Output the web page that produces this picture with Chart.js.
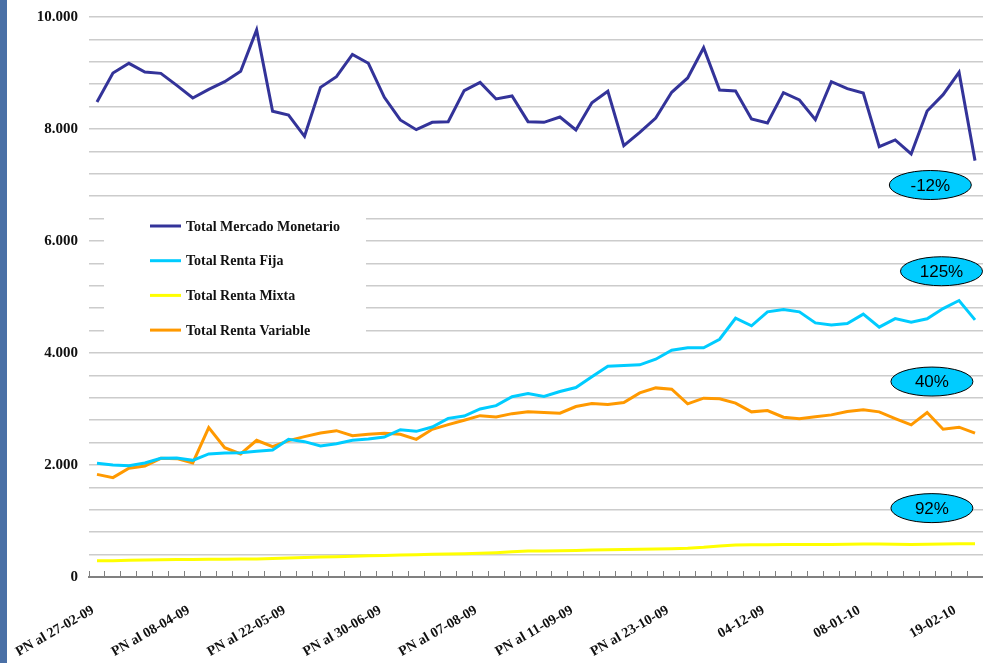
<!DOCTYPE html>
<html>
<head>
<meta charset="utf-8">
<script src="https://cdn.jsdelivr.net/npm/chart.js@4.4.0/dist/chart.umd.min.js"></script>
<style>
  body { margin: 0; background: #fff; }
  #wrap { position: relative; width: 983px; height: 663px; overflow: hidden; }
  #bar { position: absolute; left: 0; top: 0; width: 7px; height: 663px; background: #4a70a6; }
</style>
</head>
<body>
<div id="wrap">
  <canvas id="chart-line" width="983" height="663"></canvas>
  <div id="bar"></div>
</div>
<script>
// weekly values
const tickLabels = ["PN al 27-02-09", "PN al 08-04-09", "PN al 22-05-09", "PN al 30-06-09", "PN al 07-08-09",
  "PN al 11-09-09", "PN al 23-10-09", "04-12-09", "08-01-10", "19-02-10"];
const labelStep = 6;

const seriesNames = ["Total Mercado Monetario", "Total Renta Fija", "Total Renta Mixta", "Total Renta Variable"];

const monetario = [8482, 9000, 9173, 9018, 8994, 8780, 8554, 8708, 8845, 9030, 9768, 8316, 8250, 7869,
  8744, 8935, 9333, 9173, 8566, 8161, 7988, 8119, 8131, 8685, 8833, 8536, 8589, 8131, 8119, 8214, 7982,
  8470, 8673, 7702, 7940, 8196, 8655, 8911, 9452, 8696, 8679, 8179, 8107, 8649, 8518, 8167, 8845, 8720,
  8643, 7685, 7804, 7554, 8322, 8613, 9012, 7435];
const rentaFija = [2030, 2000, 1988, 2036, 2119, 2125, 2083, 2197, 2214, 2220, 2244, 2268, 2458, 2417,
  2339, 2381, 2441, 2464, 2500, 2631, 2601, 2679, 2833, 2875, 3000, 3060, 3220, 3278, 3223, 3312, 3383,
  3574, 3764, 3776, 3788, 3889, 4050, 4092, 4092, 4246, 4621, 4485, 4735, 4776, 4735, 4538, 4502, 4526,
  4693, 4461, 4615, 4550, 4610, 4794, 4937, 4592];
const rentaMixta = [290, 292, 297, 303, 308, 312, 314, 316, 318, 320, 322, 330, 340, 348, 355, 362, 370,
  378, 385, 392, 398, 405, 410, 415, 422, 435, 450, 464, 466, 470, 475, 480, 485, 490, 495, 500, 505, 512,
  530, 555, 571, 575, 578, 580, 580, 580, 582, 585, 589, 588, 585, 582, 583, 588, 592, 595];
const rentaVariable = [1833, 1774, 1941, 1982, 2119, 2113, 2036, 2667, 2310, 2197, 2441, 2327, 2435, 2506,
  2572, 2613, 2524, 2548, 2566, 2548, 2458, 2637, 2720, 2798, 2881, 2857, 2917, 2950, 2937, 2925, 3044,
  3098, 3080, 3116, 3288, 3377, 3354, 3092, 3193, 3181, 3104, 2949, 2973, 2854, 2824, 2860, 2895, 2955,
  2985, 2949, 2830, 2717, 2937, 2639, 2675, 2568];

// change badges on the right
const badgeTexts = ["-12%", "125%", "40%", "92%"];
const badgeIndex = [52.2, 52.9, 52.3, 52.3];
const badgeValue = [7000, 5460, 3490, 1230];

const colors = ["#333399", "#00CCFF", "#FFFF00", "#FF9900"];
const serif = "'Liberation Serif', 'Times New Roman', serif";

let labels = [];
for (let i = 0; i < monetario.length; i++) {
  labels.push(i % labelStep === 0 ? tickLabels[i / labelStep] : "");
}

function miles(v) {
  return String(v).replace(/\B(?=(\d{3})+(?!\d))/g, ".");
}

//legend box drawn inside the plot, over the grid
const legendInside = {
  id: "legendInside",
  beforeDatasetsDraw(chart) {
    const ctx = chart.ctx;
    ctx.save();
    ctx.fillStyle = "#fff";
    ctx.fillRect(104, 207, 262, 136);
    ctx.font = "bold 14px " + serif;
    ctx.textBaseline = "middle";
    ctx.fillStyle = "#111";
    chart.data.datasets.forEach((ds, i) => {
      const y = 226 + i * 34.7;
      ctx.strokeStyle = ds.borderColor;
      ctx.lineWidth = 3;
      ctx.beginPath();
      ctx.moveTo(150, y);
      ctx.lineTo(181, y);
      ctx.stroke();
      ctx.fillText(ds.label, 186, y + 1);
    });
    ctx.restore();
  },
};

const badges = {
  id: "badges",
  afterDraw(chart) {
    const ctx = chart.ctx;
    const xs = chart.scales.x;
    const ys = chart.scales.y;
    ctx.save();
    for (let i = 0; i < badgeTexts.length; i++) {
      const cx = xs.getPixelForValue(badgeIndex[i]);
      const cy = ys.getPixelForValue(badgeValue[i]);
      ctx.beginPath();
      ctx.ellipse(cx, cy, 41, 14.5, 0, 0, Math.PI * 2);
      ctx.fillStyle = "#00CCFF";
      ctx.fill();
      ctx.strokeStyle = "#000";
      ctx.lineWidth = 1;
      ctx.stroke();
      ctx.fillStyle = "#000";
      ctx.font = "17px 'Liberation Sans', Arial, sans-serif";
      ctx.textAlign = "center";
      ctx.textBaseline = "middle";
      ctx.fillText(badgeTexts[i], cx, cy + 1);
    }
    ctx.restore();
  },
};

const ctx = document.getElementById("chart-line");
const chart = new Chart(ctx, {
  type: "line",
  data: {
    labels: labels,
    datasets: [
      { label: seriesNames[0], data: monetario, borderColor: colors[0], backgroundColor: colors[0] },
      { label: seriesNames[1], data: rentaFija, borderColor: colors[1], backgroundColor: colors[1] },
      { label: seriesNames[2], data: rentaMixta, borderColor: colors[2], backgroundColor: colors[2] },
      { label: seriesNames[3], data: rentaVariable, borderColor: colors[3], backgroundColor: colors[3] },
    ],
  },
  options: {
    responsive: false,
    animation: false,
    layout: { padding: { top: 17, right: 0, bottom: 0, left: 0 } },
    elements: {
      line: { borderWidth: 3, tension: 0 },
      point: { radius: 0 },
    },
    plugins: {
      legend: { display: false },
      tooltip: { enabled: false },
    },
    scales: {
      x: {
        offset: true,
        grid: {
          offset: true,
          drawOnChartArea: false,
          drawTicks: true,
          tickLength: -6,
          color: "#808080",
        },
        border: { display: true, color: "#808080", width: 2 },
        ticks: {
          autoSkip: false,
          maxRotation: 30,
          minRotation: 30,
          padding: 31,
          labelOffset: -4,
          color: "#111",
          font: { family: serif, size: 14, weight: "bold" },
        },
        afterFit(scale) {
          scale.height = 86;
          // labels may hang outside the plot, do not shrink it for them
          scale.paddingLeft = 0;
          scale.paddingRight = 0;
        },
      },
      y: {
        min: 0,
        max: 10000,
        grid: { color: "#cccccc", lineWidth: 1.5, drawTicks: false },
        border: { display: false },
        ticks: {
          stepSize: 400,
          autoSkip: false,
          padding: 11,
          color: "#111",
          font: { family: serif, size: 15, weight: "bold" },
          callback: (v) => (v % 2000 === 0 ? miles(v) : ""),
        },
        afterFit(scale) {
          scale.width = 89;
          scale.paddingTop = 0;
          scale.paddingBottom = 0;
        },
      },
    },
  },
  plugins: [legendInside, badges],
});
</script>
</body>
</html>
